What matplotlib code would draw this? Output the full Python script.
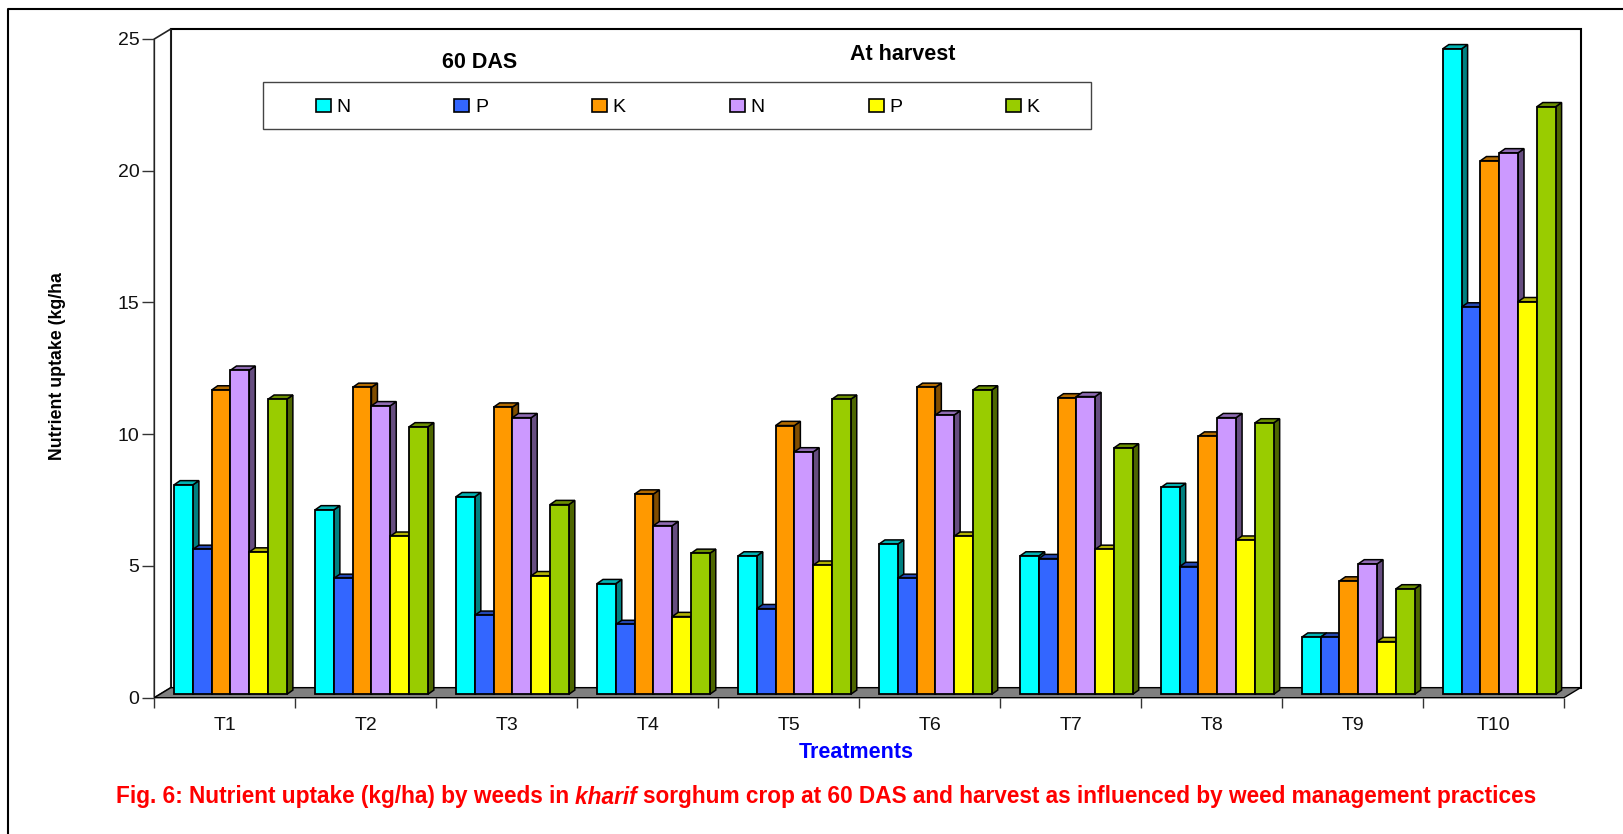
import matplotlib
matplotlib.use('Agg')
import matplotlib.pyplot as plt
from matplotlib.patches import Polygon, Rectangle, Patch
from matplotlib.lines import Line2D
from matplotlib.transforms import Affine2D
from matplotlib.colors import to_rgb

plt.rcParams['font.family'] = ['Liberation Sans', 'DejaVu Sans']

treatments = ['T1', 'T2', 'T3', 'T4', 'T5', 'T6', 'T7', 'T8', 'T9', 'T10']
n_60 = [7.95, 7.0, 7.5, 4.2, 5.25, 5.7, 5.25, 7.85, 2.17, 24.5]
p_60 = [5.5, 4.4, 3.0, 2.65, 3.25, 4.4, 5.15, 4.85, 2.17, 14.7]
k_60 = [11.55, 11.65, 10.9, 7.6, 10.2, 11.65, 11.25, 9.8, 4.3, 20.25]
n_harvest = [12.3, 10.95, 10.5, 6.4, 9.2, 10.6, 11.3, 10.5, 4.95, 20.55]
p_harvest = [5.4, 6.0, 4.5, 2.95, 4.9, 6.0, 5.5, 5.85, 2.0, 14.9]
k_harvest = [11.2, 10.15, 7.2, 5.35, 11.2, 11.55, 9.35, 10.3, 4.0, 22.3]

series = [n_60, p_60, k_60, n_harvest, p_harvest, k_harvest]
labels = ['N', 'P', 'K', 'N', 'P', 'K']
colors = ['#00FFFF', '#3366FF', '#FF9900', '#CC99FF', '#FFFF00', '#99CC00']

W, H = 1624, 834
fig = plt.figure(figsize=(W / 100, H / 100), dpi=100)

# front plane of the fake 3D box, in pixels
left, right, bottom, top = 154.3, 1564.0, 697.7, 39.0
ax = fig.add_axes([left / W, 1 - bottom / H, (right - left) / W, (bottom - top) / H])
ax.set_xlim(0, 10)
ax.set_ylim(0, 25)
ax.patch.set_visible(False)
for s in ax.spines.values():
    s.set_visible(False)

px_x = 10 / (right - left)
px_y = 25 / (bottom - top)


def darker(c, f):
    r, g, b = to_rgb(c)
    return (r * f, g * f, b * f)


# box: back wall, left wall, floor
box_dx, box_dy = 16.5 * px_x, 10 * px_y
ax.add_patch(Polygon([(box_dx, box_dy), (10 + box_dx, box_dy), (10 + box_dx, 25 + box_dy), (box_dx, 25 + box_dy)],
                     fc='white', ec='black', lw=1.5, clip_on=False, zorder=1))
ax.add_patch(Polygon([(0, 0), (box_dx, box_dy), (box_dx, 25 + box_dy), (0, 25)],
                     fc='white', ec='#222222', lw=1.2, clip_on=False, zorder=1))
ax.add_patch(Polygon([(0, 0), (10, 0), (10 + box_dx, box_dy), (box_dx, box_dy)],
                     fc='#808080', ec='black', lw=1.0, clip_on=False, zorder=2))

# bars sit a little behind the front plane
shift = ax.transData + Affine2D().translate(5.7, 3.4)
bar_dx, bar_dy = 6 * px_x, 4.2 * px_y
gap = 1.5
bar_w = 1 / (len(series) + gap)
z = 3
for i in range(len(treatments)):
    for j, vals in enumerate(series):
        x0 = i + (gap / 2 + j) * bar_w
        x1 = x0 + bar_w
        v = vals[i]
        c = colors[j]
        ax.add_patch(Polygon([(x1, 0), (x1 + bar_dx, bar_dy), (x1 + bar_dx, v + bar_dy), (x1, v)],
                             fc=darker(c, 0.5), ec='black', lw=1.1, transform=shift, clip_on=False, zorder=z))
        ax.add_patch(Polygon([(x0, v), (x1, v), (x1 + bar_dx, v + bar_dy), (x0 + bar_dx, v + bar_dy)],
                             fc=darker(c, 0.7), ec='black', lw=1.1, transform=shift, clip_on=False, zorder=z))
        ax.bar(x0, v, width=bar_w, align='edge', color=c, edgecolor='black', lw=1.3,
               transform=shift, clip_on=False, zorder=z + 0.5)
        z += 1

ax.set_yticks([0, 5, 10, 15, 20, 25])
ax.set_xticks(range(11))
ax.set_xticklabels([])
ax.tick_params(axis='y', length=8.6, width=1, color='#333333', labelsize=14, pad=2, labelcolor='#111111')
ax.tick_params(axis='x', length=7.5, width=1, color='#333333')
for i, t in enumerate(treatments):
    ax.text(i + 0.5, -(725 - bottom) / (bottom - top), t, transform=ax.get_xaxis_transform(), fontsize=14,
            color='#111111', ha='center', va='center')


def fig_text(x, y, s, **kw):
    return fig.text(x / W, 1 - y / H, s, ha=kw.pop('ha', 'center'), va=kw.pop('va', 'center'), **kw)


# legend box and headings
fig.add_artist(Rectangle((263 / W, 1 - 129 / H), (1090.5 - 263) / W, 47 / H, fc='white', ec='#444444', lw=1.0,
                         transform=fig.transFigure, zorder=50))
handles = [Patch(fc=c, ec='black', lw=1.2) for c in colors]
leg = fig.legend(handles, labels, ncol=6, frameon=False, fontsize=14, loc='center left',
                 bbox_to_anchor=(306 / W, 1 - 107.5 / H), handlelength=0.77, handleheight=0.62,
                 handletextpad=0.28, columnspacing=5.36, borderpad=0.5, borderaxespad=0)
leg.set_zorder(51)
fig_text(480, 63, '60 DAS', fontsize=15.5, fontweight='bold')
fig_text(903, 55, 'At harvest', fontsize=15.5, fontweight='bold')

fig_text(58, 366, 'Nutrient uptake (kg/ha', fontsize=12.8, fontweight='bold', rotation=90)
fig_text(856, 752.5, 'Treatments', fontsize=15.5, fontweight='bold', color='#0000FF')

# caption in three pieces because of the italic word
r = fig.canvas.get_renderer()
x = 116
parts = [('Fig. 6: Nutrient uptake (kg/ha) by weeds in ', 'normal'), ('kharif ', 'italic'),
         ('sorghum crop at 60 DAS and harvest as influenced by weed management practices', 'normal')]
for s, style in parts:
    t = fig_text(x, 797, s, ha='left', fontsize=16.3, fontweight='bold', fontstyle=style, color='#FF0000')
    x += t.get_window_extent(r).width

# outer border: only top and left edges show in the picture
fig.add_artist(Line2D([8 / W, 8 / W, 1], [0, 1 - 9.3 / H, 1 - 9.3 / H], color='black', lw=1.5,
                      transform=fig.transFigure))

fig.savefig('out.png', dpi=100)
